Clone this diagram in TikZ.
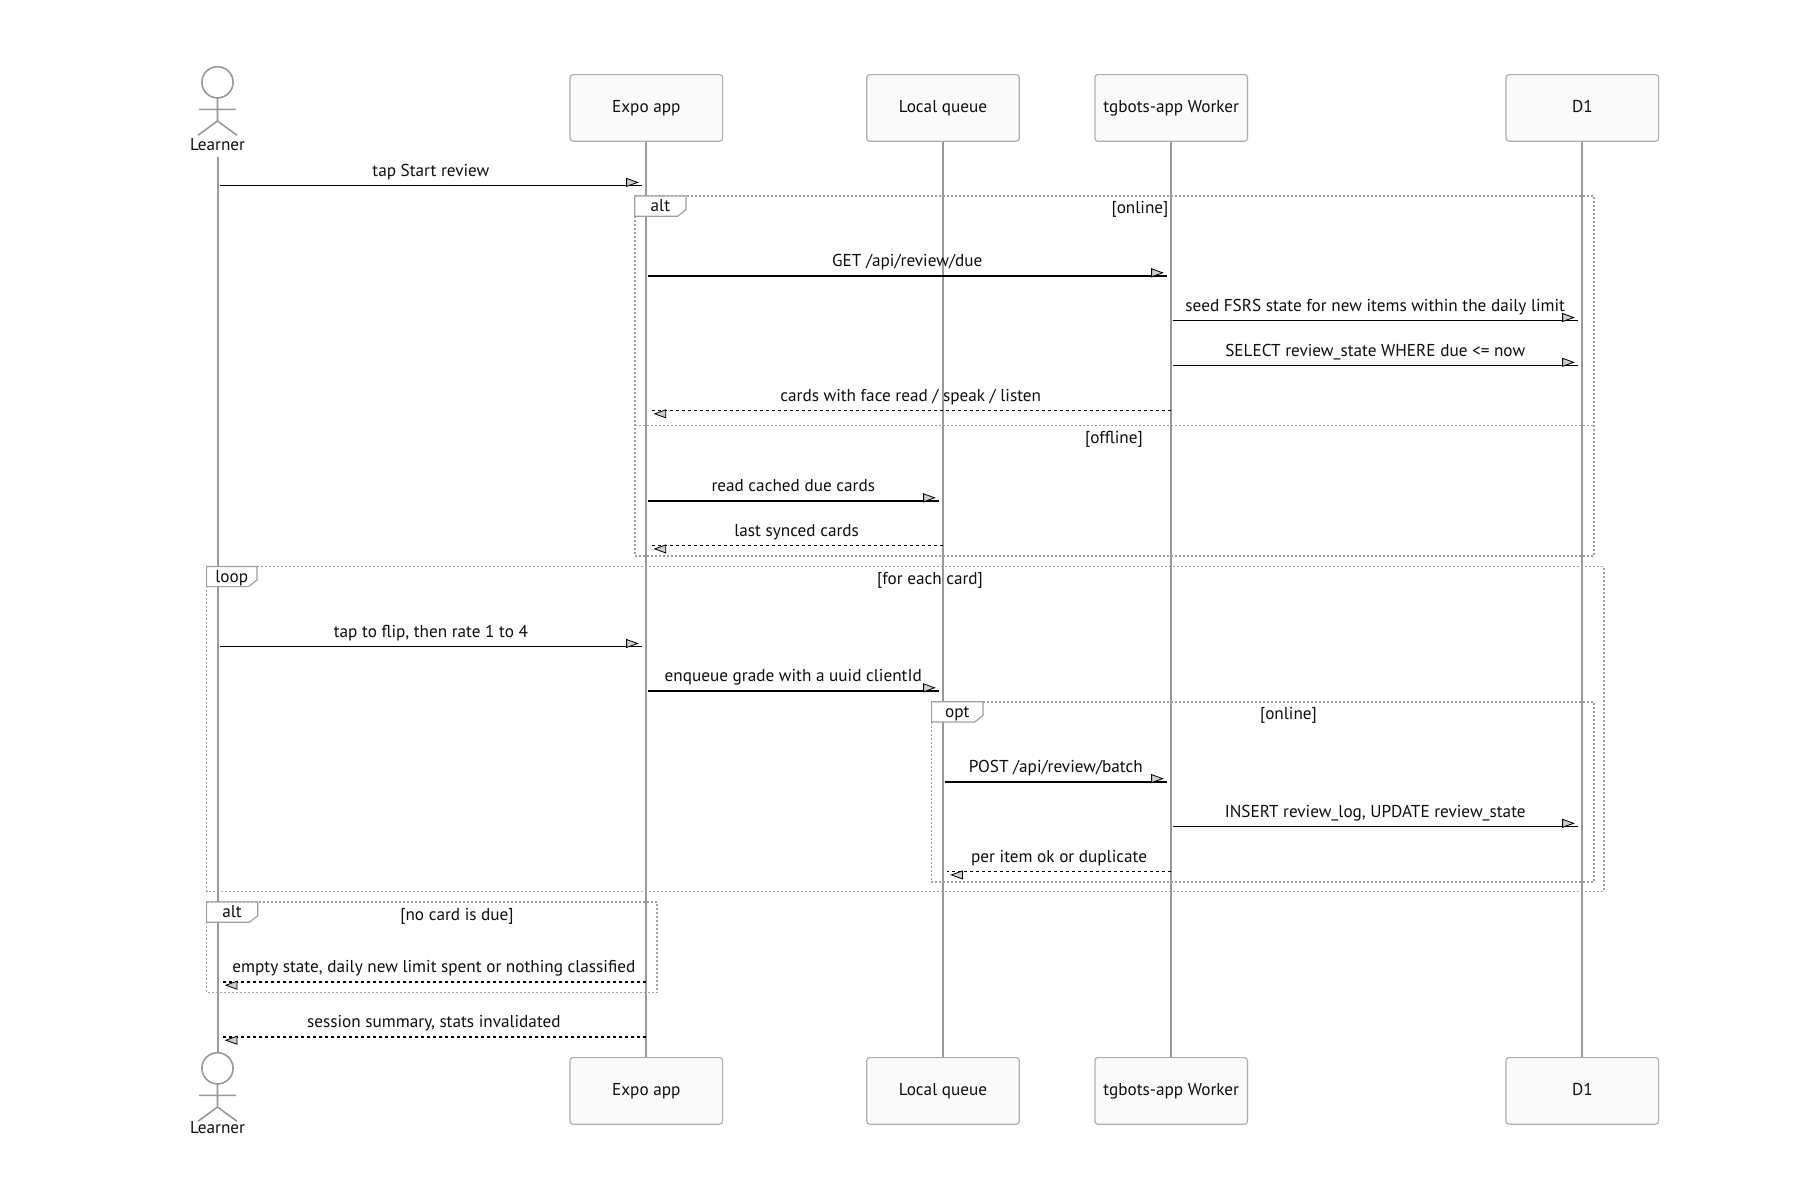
\documentclass[tikz,border=0pt]{standalone}
\usepackage{fontspec}
\setmainfont{PT Sans}
\usetikzlibrary{decorations.markings}
\definecolor{lifec}{RGB}{153,153,153}
\definecolor{boxc}{RGB}{175,175,175}
\definecolor{framec}{RGB}{160,160,160}
\definecolor{txtc}{RGB}{15,15,15}
\definecolor{tipc}{RGB}{205,205,205}
\newcommand\fsz{\fontsize{8.6pt}{10pt}\selectfont}
\tikzset{
  part/.style={draw=boxc, fill=white!98!black, rounded corners=1.5pt, line width=0.6pt,
    minimum width=76.3pt, minimum height=33.3pt, font=\fsz, text=txtc, inner sep=0pt,
    text height=6.2pt, text depth=1.8pt},
  life/.style={draw=lifec, line width=1pt},
  actorline/.style={draw=lifec, line width=0.8pt},
  msg/.style={draw=black, line width=0.75pt, postaction={decorate},
    decoration={markings, mark=at position 1 with {\draw[solid, fill=tipc, draw=black,
      line width=0.4pt] (-2.2pt,1.6pt) -- (-7.7pt,3.6pt) -- (-7.7pt,-0.4pt) -- cycle;}}},
  ret/.style={msg, dash pattern=on 1.5pt off 1.5pt},
  frame/.style={draw=framec, line width=0.8pt, dash pattern=on 1pt off 1pt},
  flabel/.style={draw=framec, fill=white, line width=0.6pt},
  lbl/.style={font=\fsz, text=txtc, inner sep=0pt, text height=6.2pt, text depth=1.8pt},
}
\begin{document}
\begin{tikzpicture}[x=0.5pt,y=-0.5pt]
\fill[white] (0,0) rectangle (1800,1200);
\useasboundingbox (0,0) rectangle (1800,1200);

% participant boxes
\node[part] (expT) at (646.3,107.9) {Expo app};
\node[part] (queT) at (943,107.9) {Local queue};
\node[part] (wrkT) at (1171.2,107.9) {tgbots-app Worker};
\node[part] (d1T) at (1582.3,107.9) {D1};
\coordinate (lrnTop) at (217.5,156.7);
\coordinate (lrnBot) at (217.5,1052.7);
\coordinate (expBotC) at (646.3,1057.7);
\coordinate (queBotC) at (943,1057.7);
\coordinate (wrkBotC) at (1171.2,1057.7);
\coordinate (d1BotC) at (1582.3,1057.7);

% lifelines
\draw[life] (lrnTop) -- (lrnBot);
\draw[life] (expT.south) -- (expBotC);
\draw[life] (queT.south) -- (queBotC);
\draw[life] (wrkT.south) -- (wrkBotC);
\draw[life] (d1T.south) -- (d1BotC);

% actors
\draw[actorline, fill=white] (217.5,82.3) circle[radius=15.6];
\draw[actorline] (199,109.3) -- (236,109.3) (217.5,97.9) -- (217.5,121)
  (198,135.3) -- (217.5,121) -- (237,135.3);
\node[lbl] (lrnT) at (217.5,146) {Learner};
\draw[actorline, fill=white] (217.5,1068.3) circle[radius=15.6];
\draw[actorline] (199,1095.3) -- (236,1095.3) (217.5,1083.9) -- (217.5,1107)
  (198,1121.3) -- (217.5,1107) -- (237,1121.3);
\node[lbl] (lrnB) at (217.5,1129.5) {Learner};

% frames
\draw[frame] (634.8,196) rectangle (1594,556);
\draw[frame] (634.8,425.6) -- (1594,425.6);
\draw[frame] (206.6,566.4) rectangle (1603.7,891.6);
\draw[frame] (931.6,701.8) rectangle (1594,882);
\draw[frame] (206.6,902) rectangle (657.2,992.6);

\draw[flabel] (634.8,196) -- (686,196) -- (686,209.6) -- (677.6,216.2) -- (634.8,216.2) -- cycle;
\draw[flabel] (206.6,566.4) -- (257,566.4) -- (257,580) -- (248.6,586.6) -- (206.6,586.6) -- cycle;
\draw[flabel] (931.6,701.8) -- (983,701.8) -- (983,715.4) -- (974.6,722) -- (931.6,722) -- cycle;
\draw[flabel] (206.6,902) -- (257.7,902) -- (257.7,915.7) -- (249.3,922.3) -- (206.6,922.3) -- cycle;

\node[lbl] (f1k) at (660.4,207) {alt};
\node[lbl] (f1c) at (1140,208.6) {[online]};
\node[lbl] (f1e) at (1114,438.6) {[offline]};
\node[lbl] (f2k) at (231.8,578) {loop};
\node[lbl] (f2c) at (930,579.8) {[for each card]};
\node[lbl] (f3k) at (957.3,713.3) {opt};
\node[lbl] (f3c) at (1288.5,714.8) {[online]};
\node[lbl] (f4k) at (232,913.5) {alt};
\node[lbl] (f4c) at (457,915.7) {[no card is due]};

% message end points
\coordinate (m1s) at (219.8,185.6);  \coordinate (m1e) at (642,185.6);
\coordinate (m2s) at (647.5,276);    \coordinate (m2e) at (1167,276);
\coordinate (m3s) at (1172.5,320.7); \coordinate (m3e) at (1578,320.7);
\coordinate (m4s) at (1172.5,365.5); \coordinate (m4e) at (1578,365.5);
\coordinate (m5s) at (1171.2,410.6); \coordinate (m5e) at (650.3,410.6);
\coordinate (m6s) at (647.5,501);    \coordinate (m6e) at (939,501);
\coordinate (m7s) at (943,545.7);    \coordinate (m7e) at (650.3,545.7);
\coordinate (m8s) at (219.8,646.7);  \coordinate (m8e) at (642,646.7);
\coordinate (m9s) at (647.5,691);    \coordinate (m9e) at (939,691);
\coordinate (m10s) at (944.5,781.8); \coordinate (m10e) at (1167,781.8);
\coordinate (m11s) at (1172.5,826.5); \coordinate (m11e) at (1578,826.5);
\coordinate (m12s) at (1171.2,871.7); \coordinate (m12e) at (947,871.7);
\coordinate (m13s) at (646.3,982);   \coordinate (m13e) at (221.5,982);
\coordinate (m14s) at (646.3,1037);  \coordinate (m14e) at (221.5,1037);

% messages
\draw[msg] (m1s) -- node[lbl, midway, yshift=6.8pt] {tap Start review} (m1e);
\draw[msg] (m2s) -- node[lbl, midway, yshift=6.8pt] {GET /api/review/due} (m2e);
\draw[msg] (m3s) -- node[lbl, midway, yshift=6.8pt] {seed FSRS state for new items within the daily limit} (m3e);
\draw[msg] (m4s) -- node[lbl, midway, yshift=6.8pt] {SELECT review\_state WHERE due <= now} (m4e);
\draw[ret] (m5s) -- node[lbl, midway, yshift=6.8pt] {cards with face read / speak / listen} (m5e);
\draw[msg] (m6s) -- node[lbl, midway, yshift=6.8pt] {read cached due cards} (m6e);
\draw[ret] (m7s) -- node[lbl, midway, yshift=6.8pt] {last synced cards} (m7e);
\draw[msg] (m8s) -- node[lbl, midway, yshift=6.8pt] {tap to flip, then rate 1 to 4} (m8e);
\draw[msg] (m9s) -- node[lbl, midway, yshift=6.8pt] {enqueue grade with a uuid clientId} (m9e);
\draw[msg] (m10s) -- node[lbl, midway, yshift=6.8pt] {POST /api/review/batch} (m10e);
\draw[msg] (m11s) -- node[lbl, midway, yshift=6.8pt] {INSERT review\_log, UPDATE review\_state} (m11e);
\draw[ret] (m12s) -- node[lbl, midway, yshift=6.8pt] {per item ok or duplicate} (m12e);
\draw[ret] (m13s) -- node[lbl, midway, yshift=6.8pt] {empty state, daily new limit spent or nothing classified} (m13e);
\draw[ret] (m14s) -- node[lbl, midway, yshift=6.8pt] {session summary, stats invalidated} (m14e);

% bottom participant boxes
\node[part] (expB) at (646.3,1090.9) {Expo app};
\node[part] (queB) at (943,1090.9) {Local queue};
\node[part] (wrkB) at (1171.2,1090.9) {tgbots-app Worker};
\node[part] (d1B) at (1582.3,1090.9) {D1};
\end{tikzpicture}
\end{document}
